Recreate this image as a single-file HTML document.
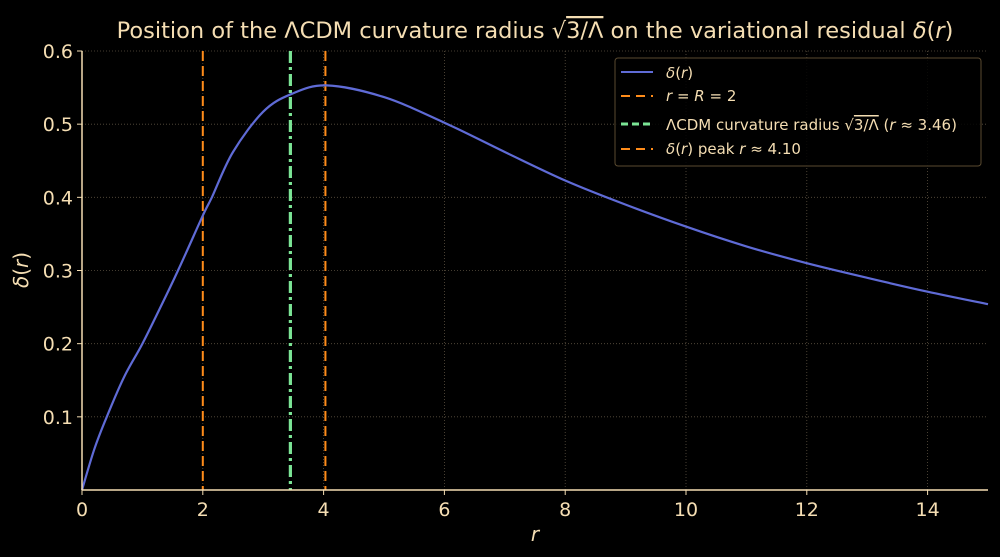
<!DOCTYPE html>
<html><head><meta charset="utf-8"><style>
html,body{margin:0;background:#000;overflow:hidden;width:1000px;height:557px;}
svg{display:block;font-family:"DejaVu Sans","Liberation Sans",sans-serif;}
</style></head><body>
<svg id="chart" width="1000" height="557" viewBox="0 0 1000 557">
<rect width="1000" height="557" fill="#000"/>
<g id="plot"></g>
<text x="535" y="38" fill="#f5deb3" font-size="22.5" text-anchor="middle">Position of the ΛCDM curvature radius √<tspan text-decoration="overline">3/Λ</tspan> on the variational residual <tspan font-style="italic">δ</tspan>(<tspan font-style="italic">r</tspan>)</text>
<text x="535" y="541" fill="#f5deb3" font-size="20" font-style="italic" text-anchor="middle">r</text>
<text transform="translate(28,270) rotate(-90)" fill="#f5deb3" font-size="20" text-anchor="middle"><tspan font-style="italic">δ</tspan>(<tspan font-style="italic">r</tspan>)</text>
<g>
<rect x="615" y="58" width="366" height="108" rx="3" fill="#000" fill-opacity="0.85" stroke="#5a4a30" stroke-width="1"/>
<line x1="621" x2="653" y1="72" y2="72" stroke="#5f6bd6" stroke-width="2"/>
<text x="666" y="78" fill="#f5deb3" font-size="15"><tspan font-style="italic">δ</tspan>(<tspan font-style="italic">r</tspan>)</text>
<line x1="621" x2="653" y1="96" y2="96" stroke="#ff8c1a" stroke-width="2" stroke-dasharray="9,6"/>
<text x="666" y="101" fill="#f5deb3" font-size="15"><tspan font-style="italic">r</tspan> = <tspan font-style="italic">R</tspan> = 2</text>
<line x1="621" x2="653" y1="124" y2="124" stroke="#7be495" stroke-width="3" stroke-dasharray="7,4"/>
<text x="666" y="130" fill="#f5deb3" font-size="15">ΛCDM curvature radius √<tspan text-decoration="overline">3/Λ</tspan> (<tspan font-style="italic">r</tspan> ≈ 3.46)</text>
<line x1="621" x2="653" y1="149" y2="149" stroke="#ff8c1a" stroke-width="2" stroke-dasharray="9,6"/>
<text x="666" y="154" fill="#f5deb3" font-size="15"><tspan font-style="italic">δ</tspan>(<tspan font-style="italic">r</tspan>) peak <tspan font-style="italic">r</tspan> ≈ 4.10</text>
</g>
</svg>
<script>
const xTicks=[0,2,4,6,8,10,12,14];
const yTicks=[0.1,0.2,0.3,0.4,0.5,0.6];
const rVals=[0,0.2,0.41,0.7,1.0,1.3,1.59,2,2.15,2.5,3,3.46,4.05,5,6,7,8,9,10,11,12,13,14,15];
const deltaVals=[0,0.055,0.1,0.155,0.2,0.25,0.3,0.375,0.4,0.462,0.517,0.541,0.553,0.537,0.502,0.462,0.423,0.39,0.36,0.333,0.31,0.29,0.271,0.254];
const vlines=[2,3.45,4.03];
const L=82,R=988,T=51,B=490,xMax=15,yMax=0.6;
const X=v=>L+v/xMax*(R-L), Y=v=>B-v/yMax*(B-T);
const root=document.getElementById('plot');const NS='http://www.w3.org/2000/svg';
const C='#f5deb3';
function el(t,a){const e=document.createElementNS(NS,t);for(const k in a)e.setAttribute(k,a[k]);root.appendChild(e);return e;}
xTicks.forEach(t=>{const g=el('line',{x1:X(t),x2:X(t),y1:T,y2:B,stroke:'#5a5040','stroke-width':0.8,'stroke-dasharray':'1,2'});

});
yTicks.forEach(t=>{const g=el('line',{x1:L,x2:R,y1:Y(t),y2:Y(t),stroke:'#5a5040','stroke-width':0.8,'stroke-dasharray':'1,2'});

});
const vcol=['#ff8c1a','#7be495','#ff8c1a'];
vlines.forEach((v,i)=>{const l=el('line',{x1:X(v),x2:X(v),y1:T,y2:B,stroke:vcol[i],'stroke-width':i==1?3.2:2,'stroke-dasharray':i==1?'12,4,3,4':'10,5'});

});
const P=rVals.map((r,i)=>[X(r),Y(deltaVals[i])]);
let d='M'+P[0][0]+','+P[0][1];
for(let i=0;i<P.length-1;i++){const p0=P[Math.max(i-1,0)],p1=P[i],p2=P[i+1],p3=P[Math.min(i+2,P.length-1)];
const c1=[p1[0]+(p2[0]-p0[0])/6,p1[1]+(p2[1]-p0[1])/6],c2=[p2[0]-(p3[0]-p1[0])/6,p2[1]-(p3[1]-p1[1])/6];
d+=`C${c1[0].toFixed(1)},${c1[1].toFixed(1)} ${c2[0].toFixed(1)},${c2[1].toFixed(1)} ${p2[0].toFixed(1)},${p2[1].toFixed(1)}`;}
const p=el('path',{d:d,fill:'none',stroke:'#5f6bd6','stroke-width':2.2,'stroke-linejoin':'round'});


el('line',{x1:L,x2:L,y1:T,y2:B,stroke:C,'stroke-width':1.5});
el('line',{x1:L,x2:R,y1:B,y2:B,stroke:C,'stroke-width':1.5});
xTicks.forEach(t=>{el('line',{x1:X(t),x2:X(t),y1:B,y2:B+5,stroke:C});
const tx=el('text',{x:X(t),y:B+26,fill:C,'font-size':19,'text-anchor':'middle'});tx.textContent=t;

});
yTicks.forEach(t=>{el('line',{x1:L-5,x2:L,y1:Y(t),y2:Y(t),stroke:C});
const tx=el('text',{x:L-9,y:Y(t)+7,fill:C,'font-size':19,'text-anchor':'end'});tx.textContent=t.toFixed(1);

});
</script>
</body></html>
